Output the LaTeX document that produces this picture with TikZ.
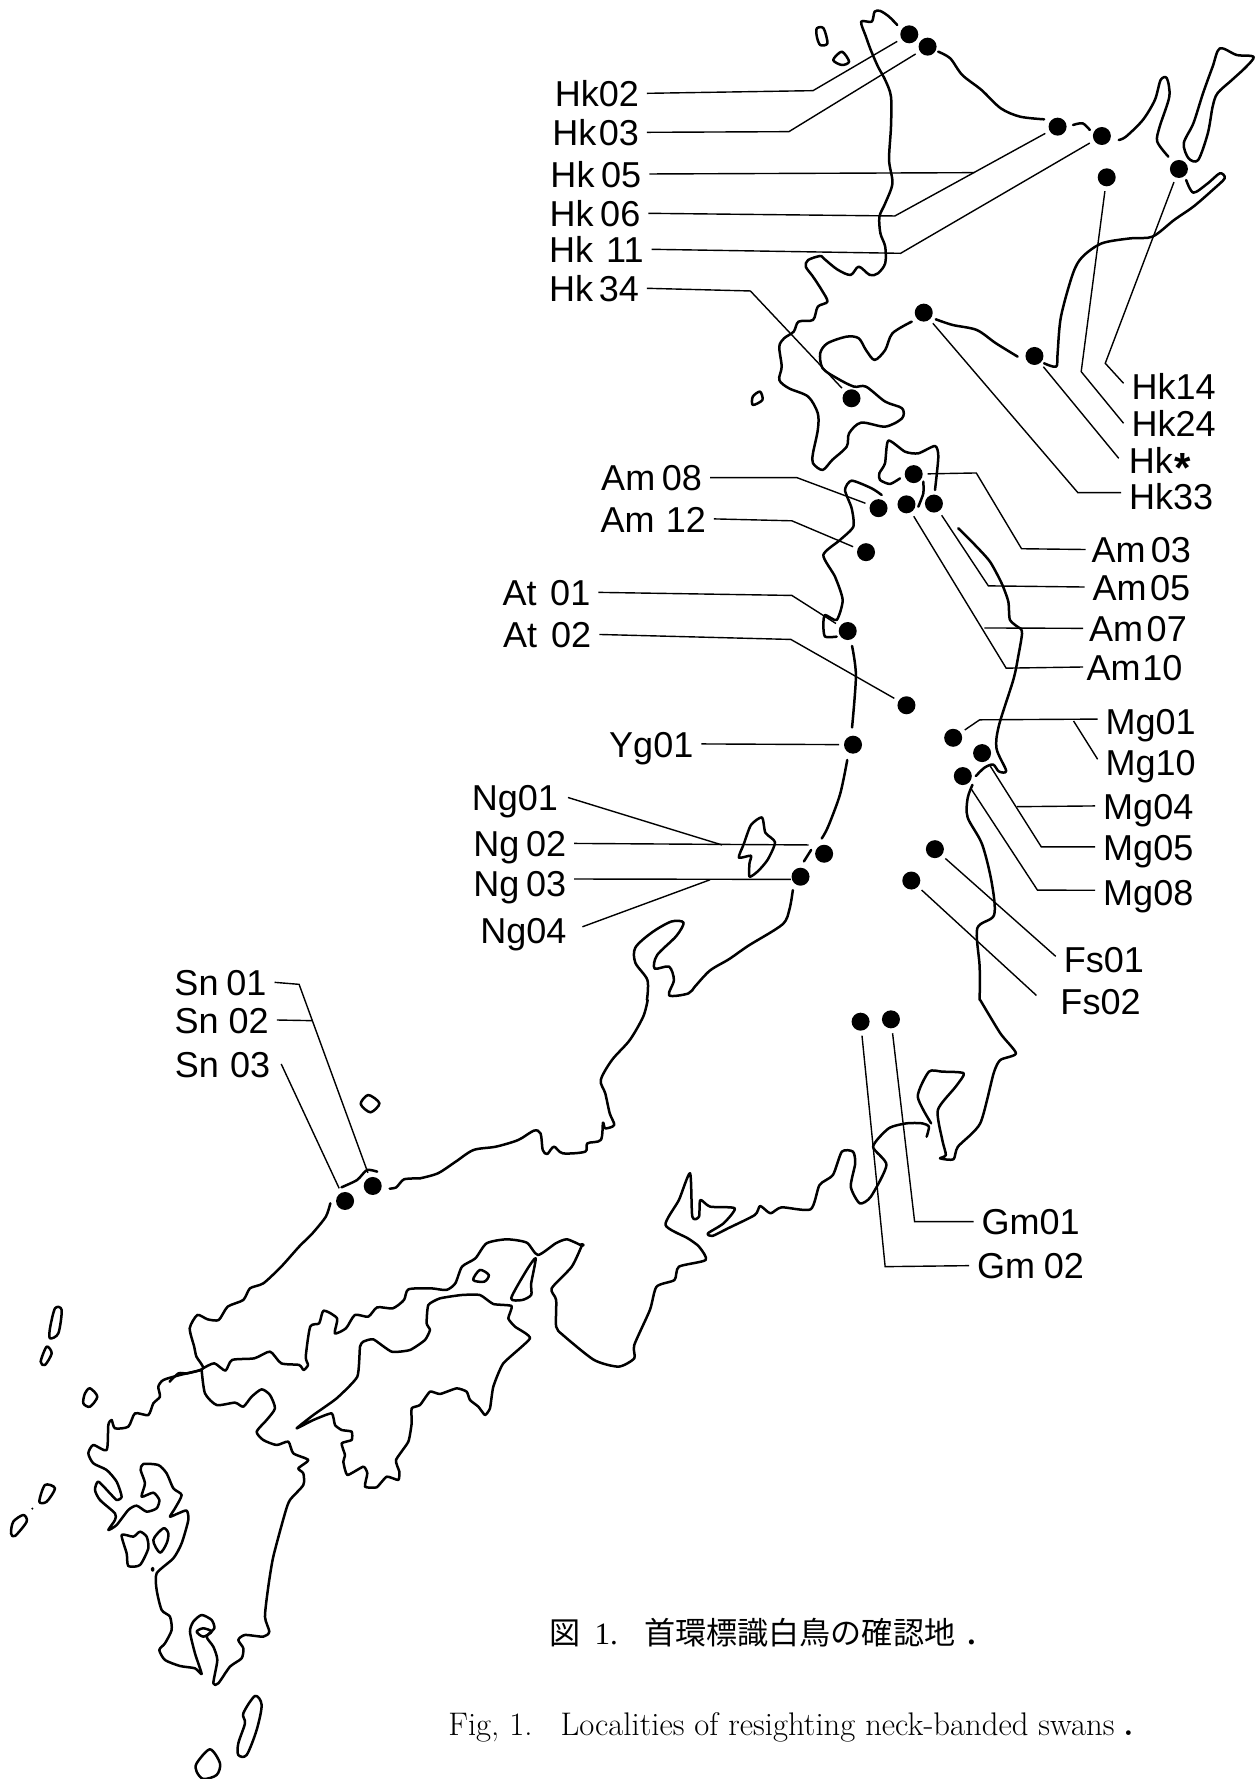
\documentclass[tikz,border=0pt]{standalone}
\usepackage{fontspec}
\newfontfamily\labfont{Liberation Sans}
\newfontfamily\cjkfont{Noto Sans CJK JP}
\newfontfamily\capfont{Liberation Serif}
\newcommand{\gp}[1]{\kern#1pt\relax}
\tikzset{
  za/.style={shift={(500,0)},xscale=.4815,yscale=.3333},
  zb/.style={shift={(450,450)},xscale=.4815,yscale=.3827},
  zc/.style={shift={(0,950)},xscale=.4464,yscale=.3333},
  zd/.style={shift={(0,1300)},xscale=.3333,yscale=.3333},
  ze/.style={shift={(420,1000)},xscale=.4464,yscale=.3333},
  zg/.style={shift={(270,1280)},xscale=.3333,yscale=.3333},
  zh/.style={shift={(820,420)},xscale=.3333,yscale=.3333},
  coast/.style={line width=.5mm,line join=round,line cap=round,black},
  leader/.style={line width=.28mm,line join=miter,black},
  pt/.style={circle,fill=black,draw=none,inner sep=0pt,minimum size=3.6mm,outer sep=1mm},
  lab/.style={font=\labfont\fontsize{20.5}{24}\selectfont,inner ysep=0pt,inner xsep=1.6mm,outer sep=0pt,text height=15pt,text depth=0pt},
  labl/.style={lab,anchor=east},
  labr/.style={lab,anchor=west},
}
\begin{document}
\begin{tikzpicture}[x=.2mm,y=-.2mm]
\useasboundingbox (0,0) rectangle (1255,1779);

% ---- coast lines ----
\begin{scope}[za]
\draw[coast] plot[smooth,tension=.5] coordinates {(825,75)(808,50)(790,33)(778,35)(772,65)(750,65)(760,110)(770,150)(785,200)(800,240)(812,290)(812,380)(808,480)(815,550)(800,610)(788,650)(790,700)(800,740)(800,790)(785,820)(768,825)(745,800)(728,825)(700,808)(672,775)(665,768)(640,780)(635,800)(650,830)(668,870)(680,905)(660,920)(650,960)(620,965)(610,995)(590,1015)(580,1040)(585,1100)(580,1140)(600,1165)(640,1190)(660,1240)(660,1290)(650,1360)(650,1390)(670,1410)(690,1380)(720,1340)(725,1300)(750,1268)(800,1280)(835,1255)(835,1225)(800,1205)(760,1160)(735,1160)(700,1135)(670,1105)(665,1060)(680,1030)(720,1010)(745,1015)(760,1050)(778,1080)(800,1050)(815,1000)(855,965)};
\draw[coast] plot[smooth,tension=.5] coordinates {(905,958)(940,975)(990,990)(1030,1030)(1075,1070)};
\draw[coast] plot[smooth,tension=.5] coordinates {(1130,1090)(1155,1100)(1158,1060)(1165,950)(1190,820)(1210,770)(1250,730)(1310,715)(1355,710)(1400,660)(1440,620)(1480,570)(1505,535)(1495,520)(1470,550)(1440,578)(1425,540)};
\draw[coast] plot[smooth,tension=.5] coordinates {(1388,470)(1365,425)(1370,380)(1390,290)(1385,235)(1372,240)(1360,300)(1335,360)(1300,410)(1285,420)};
\draw[coast] plot[smooth,tension=.5] coordinates {(1225,390)(1210,370)(1190,375)};
\draw[coast] plot[smooth,tension=.5] coordinates {(1130,358)(1080,350)(1040,325)(1000,270)(960,225)(935,175)(910,155)};
\draw[coast] plot[smooth cycle,tension=.5] coordinates {(1495,145)(1530,165)(1565,170)(1550,200)(1520,240)(1490,280)(1480,320)(1470,400)(1450,480)(1430,475)(1420,430)(1440,370)(1460,280)(1480,200)};
\draw[coast] plot[smooth cycle,tension=.5] coordinates {(658,85)(672,85)(680,130)(665,135)(658,110)};
\draw[coast] plot[smooth cycle,tension=.5] coordinates {(710,155)(725,185)(710,195)(692,180)};
\draw[coast] plot[smooth cycle,tension=.5] coordinates {(540,1175)(545,1200)(525,1215)(525,1190)};
\end{scope}

\begin{scope}[zh]
\draw[coast] plot[smooth,tension=.4] coordinates {(240,175)(210,192)(180,180)(178,160)(195,130)(205,62)(255,95)(295,100)(345,78)(355,110)(345,210)};
\draw[coast] plot[smooth,tension=.4] coordinates {(310,185)(310,220)(295,260)};
\draw[coast] plot[smooth,tension=.4] coordinates {(185,225)(155,205)(95,182)(75,210)(95,265)(100,320)(60,360)(10,405)(45,470)(68,540)(50,600)(15,585)(10,615)(15,650)(50,650)};
\draw[coast] plot[smooth,tension=.4] coordinates {(415,325)(465,375)(510,425)(545,490)(565,545)(570,600)(600,625)};
\end{scope}

\begin{scope}[zb]
\draw[coast] plot[smooth,tension=.5] coordinates {(835,512)(843,590)(835,725)};
\draw[coast] plot[smooth,tension=.5] coordinates {(825,810)(810,900)(785,985)(772,1015)};
\draw[coast] plot[smooth,tension=.5] coordinates {(750,1045)(735,1075)};
\draw[coast] plot[smooth,tension=.5] coordinates {(712,1150)(705,1200)(690,1240)(620,1295)(580,1330)(540,1360)(510,1400)(495,1420)(455,1425)(465,1385)(455,1350)(425,1355)(430,1320)(470,1270)(485,1235)(460,1232)(420,1260)(385,1300)(385,1340)(410,1385)(409,1437)};
\draw[coast] plot[smooth,tension=.5] coordinates {(1100,1437)(1100,1350)(1095,1250)(1130,1215)(1125,1130)(1105,1030)(1075,960)(1075,910)(1085,875)};
\draw[coast] plot[smooth,tension=.5] coordinates {(1092,852)(1110,830)(1128,822)(1140,840)(1155,838)(1135,780)(1140,720)(1170,600)(1180,540)(1188,480)(1184,465)};
\draw[coast] plot[smooth cycle,tension=.4] coordinates {(648,960)(655,1000)(675,1025)(660,1070)(640,1100)(622,1115)(622,1080)(625,1060)(600,1065)(610,1030)(625,980)};
\end{scope}

\begin{scope}[ze]
\draw[coast] plot[smooth,tension=.5] coordinates {(510,0)(500,50)(470,120)(430,180)(405,240)(415,280)(425,340)(435,375)(415,385)(410,368)(405,420)(375,430)(370,455)(320,460)(300,440)(285,462)(275,450)(270,400)(255,392)(220,420)(170,440)(120,450)(80,485)(40,520)(0,535)};
\draw[coast] plot[smooth,tension=.4] coordinates {(363,735)(340,800)(295,865)(305,900)(305,980)(320,1005)(390,1080)(445,1100)(480,1075)(480,1035)(515,930)(530,860)(570,840)(580,800)(640,780)(625,740)(600,715)(550,675)(580,600)(605,520)(610,650)(625,650)(628,600)(650,620)(705,625)(680,670)(645,700)(655,708)(690,685)(750,645)(762,618)(785,640)(810,622)(875,628)(895,555)(925,525)(945,455)(970,455)(975,490)(965,560)(985,610)(1010,590)(1045,495)(1015,440)(1050,385)(1090,370)(1125,370)(1140,380)(1135,410)};
\draw[coast] plot[smooth,tension=.4] coordinates {(1145,370)(1115,290)(1140,215)(1170,215)(1218,220)(1200,260)(1160,330)(1170,420)(1178,465)(1165,475)(1195,478)(1205,440)(1255,370)(1285,220)(1300,180)(1335,160)(1300,100)(1255,0)};
\fill (363,735) circle (1.2mm);
\end{scope}

\begin{scope}[zc]
\draw[coast] plot[smooth,tension=.4] coordinates {(941,685)(905,688)(888,712)(873,716)};
\draw[coast] plot[smooth,tension=.4] coordinates {(845,665)(822,660)(800,690)(765,712)};
\draw[coast] plot[smooth,tension=.4] coordinates {(740,760)(730,800)(700,850)(670,890)(630,950)(590,1000)(560,1015)(545,1050)(510,1070)(490,1110)(465,1108)(442,1095)(425,1135)(435,1190)(440,1220)(455,1255)(420,1270)(400,1270)(380,1295)};
\draw[coast] plot[smooth,tension=.4] coordinates {(455,1255)(480,1240)(505,1262)(520,1230)(570,1225)(605,1205)(630,1240)(670,1245)(680,1260)(690,1245)(685,1220)(695,1130)(715,1120)(725,1082)(755,1105)(750,1150)(775,1135)(795,1095)(825,1100)(845,1072)(880,1075)(905,1050)(915,1018)(965,1015)(1000,1020)(1020,1000)(1035,950)(1065,925)(1090,880)(1135,868)(1180,878)(1205,915)(1245,880)(1270,868)(1300,885)};
\draw[coast] plot[smooth cycle,tension=.4] coordinates {(1200,925)(1190,1000)(1190,1035)(1170,1050)(1145,1045)(1180,960)};
\draw[coast] plot[smooth cycle,tension=.5] coordinates {(1075,960)(1095,975)(1085,995)(1060,990)};
\draw[coast] plot[smooth cycle,tension=.5] coordinates {(825,435)(850,460)(830,487)(808,462)};
\end{scope}

\begin{scope}[zd]
\draw[coast] plot[smooth,tension=.4] coordinates {(605,210)(540,225)(490,240)(475,260)(480,290)(460,310)(445,345)(405,340)(385,380)(345,385)(335,360)(325,375)(320,450)(280,435)(265,460)(280,490)(320,510)(350,545)(365,590)(350,600)(330,580)(295,545)(285,570)(300,600)(345,640)(345,660)(325,690)(350,675)(385,630)(410,617)(440,635)(470,625)(478,600)(460,578)(425,590)(435,550)(422,510)(430,492)(475,495)(500,520)(520,565)(545,585)(525,625)(510,650)(535,640)(560,632)(565,660)(545,730)(520,775)(470,820)(470,870)(485,930)(510,950)(515,990)(495,1030)(478,1050)(495,1080)(540,1098)(585,1105)(605,1122)(585,1060)(570,995)(580,965)(605,945)(635,960)(643,985)(620,1010)(640,1040)(652,1080)(640,1150)(655,1150)(690,1100)(725,1075)(730,1045)(715,1020)(735,1005)(790,1010)(808,995)(795,950)(805,860)(820,770)(855,640)(870,600)(910,555)(910,520)(895,505)(925,480)(880,460)(865,425)(830,435)(790,420)(770,395)(800,360)(825,325)(810,285)(785,268)(755,290)(730,320)(705,308)(650,315)(615,280)(605,210)};
\draw[coast] (458,808) circle (.45mm and .7mm);
\draw[coast] plot[smooth cycle,tension=.5] coordinates {(590,995)(610,985)(635,995)(610,1010)};
\draw[coast] plot[smooth cycle,tension=.5] coordinates {(165,25)(185,30)(175,100)(150,115)(150,85)};
\draw[coast] plot[smooth cycle,tension=.5] coordinates {(140,140)(155,160)(135,195)(122,185)};
\draw[coast] plot[smooth cycle,tension=.5] coordinates {(270,265)(292,290)(270,320)(250,310)(255,280)};
\draw[coast] plot[smooth cycle,tension=.5] coordinates {(135,555)(165,565)(140,605)(118,605)};
\fill (97,626) circle (.7mm);
\draw[coast] plot[smooth cycle,tension=.5] coordinates {(70,645)(80,665)(45,708)(33,700)(40,665)};
\draw[coast] plot[smooth cycle,tension=.4] coordinates {(365,705)(400,710)(420,695)(440,710)(445,745)(420,795)(385,798)(380,760)};
\draw[coast] plot[smooth cycle,tension=.5] coordinates {(490,685)(505,700)(500,730)(480,758)(460,720)};
\draw[coast] plot[smooth cycle,tension=.5] coordinates {(765,1188)(785,1215)(770,1290)(740,1365)(715,1365)(715,1330)(735,1270)(730,1240)};
\draw[coast] plot[smooth cycle,tension=.5] coordinates {(630,1348)(660,1390)(650,1425)(610,1437)(590,1415)(590,1390)};
\end{scope}

\begin{scope}[zg]
\draw[coast] plot[smooth cycle,tension=.3] coordinates {(80,445)(130,420)(185,400)(195,435)(215,450)(245,455)(245,480)(215,490)(225,525)(220,545)(232,585)(280,560)(292,580)(285,620)(320,622)(350,590)(385,600)(388,575)(378,540)(415,485)(425,430)(425,385)(450,375)(480,335)(510,342)(560,325)(590,335)(600,360)(625,380)(645,405)(660,385)(670,320)(700,250)(780,175)(735,140)(715,115)(725,78)(670,72)(630,45)(575,45)(510,55)(475,75)(470,130)(480,150)(465,180)(420,210)(365,215)(310,178)(280,185)(270,200)(262,290)(200,355)(130,405)};
\end{scope}

% ---- dots, labels, elbows, connectors ----
\begin{scope}[za]
\node[pt] (p02) at (850,103) {};
\node[pt] (p03) at (888,140) {};
\node[pt] (p05) at (1158,380) {};
\node[pt] (p11) at (1250,408) {};
\node[pt] (p24) at (1260,532) {};
\node[pt] (p14) at (1410,507) {};
\node[pt] (p33) at (880,938) {};
\node[pt] (ps)  at (1110,1068) {};
\node[pt] (p34) at (730,1195) {};
\node[labl] (Hk02) at (305,280) {Hk02};
\node[labl] (Hk03) at (305,397) {Hk\gp{1.3}03};
\node[labl] (Hk05) at (310,522) {Hk\gp{3.8}05};
\node[labl] (Hk06) at (308,640) {Hk\gp{3.8}06};
\node[labl] (Hk11) at (315,748) {Hk\gp{7.5}11};
\node[labl] (Hk34) at (305,865) {Hk\gp{3.2}34};
\node[labr] (Hk14) at (1295,1158) {Hk14};
\node[labr] (Hk24) at (1295,1270) {Hk24};
\node[labr,inner xsep=2mm] (Hks) at (1285,1382) {Hk\gp{1}\smash{\fontsize{24}{24}\selectfont\bfseries\raisebox{-.2em}{*}}};
\node[labr] (Hk33) at (1290,1490) {Hk33};
\coordinate (e02) at (650,272);
\coordinate (e03) at (600,395);
\coordinate (e05) at (985,518);
\coordinate (e06) at (820,648);
\coordinate (e11) at (832,760);
\coordinate (e34) at (520,873);
\coordinate (e14) at (1257,1090);
\coordinate (e24) at (1207,1115);
\coordinate (e33) at (1200,1478);
\end{scope}
\draw[leader] (Hk02.east) -- (e02) -- (p02);
\draw[leader] (Hk03.east) -- (e03) -- (p03);
\draw[leader] (Hk05.east) -- (e05);
\draw[leader] (Hk06.east) -- (e06) -- (p05);
\draw[leader] (Hk11.east) -- (e11) -- (p11);
\draw[leader] (Hk34.east) -- (e34) -- (p34);
\draw[leader] ([yshift=1.5pt]Hk14.west) -- (e14) -- (p14);
\draw[leader] (Hk24.west) -- (e24) -- (p24);
\draw[leader] ([yshift=1.3pt]Hks.west) -- (ps);
\draw[leader] ([yshift=2.3pt]Hk33.west) -- (e33) -- (p33);

\begin{scope}[zb]
\node[pt] (a03) at (963,63) {};
\node[pt] (a08) at (890,152) {};
\node[pt] (a10) at (948,142) {};
\node[pt] (a05) at (1005,140) {};
\node[pt] (a12) at (864,267) {};
\node[pt] (t01) at (826,473) {};
\node[pt] (t02) at (948,667) {};
\node[pt] (y01) at (837,770) {};
\node[pt] (m01) at (1045,752) {};
\node[pt] (m05) at (1105,792) {};
\node[pt] (m08) at (1065,852) {};
\node[pt] (n02) at (777,1055) {};
\node[pt] (n03) at (728,1115) {};
\node[pt] (f01) at (1007,1043) {};
\node[pt] (f02) at (958,1125) {};
\node[labl] (Am08) at (540,72) {Am\gp{3.8}08};
\node[labl] (Am12) at (548,180) {Am\gp{6.4}12};
\node[labl] (At01) at (308,372) {At\gp{7.7}01};
\node[labl] (At02) at (310,482) {At\gp{8}02};
\node[labl] (Yg01) at (522,768) {Yg01};
\node[labl,inner xsep=2mm] (Ng01) at (245,908) {Ng01};
\node[labl] (Ng02) at (258,1028) {Ng\gp{3.8}02};
\node[labl] (Ng03) at (258,1132) {Ng\gp{3.8}03};
\node[labl,inner xsep=3.2mm] (Ng04) at (275,1255) {Ng04};
\node[labr,inner xsep=1.2mm] (Am03) at (1320,260) {Am\gp{3}03};
\node[labr] (Am05) at (1318,358) {Am\gp{2}05};
\node[labr,inner xsep=1.2mm] (Am07) at (1315,466) {Am\gp{2}07};
\node[labr,inner xsep=.7mm] (Am10) at (1315,567) {Am\gp{1}10};
\node[labr] (Mg01) at (1345,710) {Mg01};
\node[labr] (Mg10) at (1345,815) {Mg10};
\node[labr] (Mg04) at (1340,930) {Mg04};
\node[labr] (Mg05) at (1340,1037) {Mg05};
\node[labr] (Mg08) at (1340,1155) {Mg08};
\node[labr] (Fs01) at (1258,1330) {Fs01};
\node[labr,inner xsep=4.8mm] (Fs02) at (1218,1440) {Fs02};
\coordinate (b08) at (720,72);
\coordinate (b12) at (710,185);
\coordinate (b01) at (710,380);
\coordinate (b02) at (708,495);
\coordinate (b03a) at (1093,60);
\coordinate (b03b) at (1187,258);
\coordinate (b05) at (1118,355);
\coordinate (b07) at (1110,465);
\coordinate (b10) at (1155,570);
\coordinate (bm1) at (1100,705);
\coordinate (bm10) at (1295,708);
\coordinate (bm4) at (1178,932);
\coordinate (bm5) at (1228,1037);
\coordinate (bm8) at (1220,1150);
\coordinate (bn1) at (565,1032);
\coordinate (bn2) at (745,1032);
\coordinate (bn3) at (708,1122);
\coordinate (bn4) at (540,1123);
\end{scope}
\draw[leader] (Am08.east) -- (b08) -- (a08);
\draw[leader] (Am12.east) -- (b12) -- (a12);
\draw[leader] (At01.east) -- (b01) -- (t01);
\draw[leader] (At02.east) -- (b02) -- (t02);
\draw[leader] (Yg01.east) -- (y01);
\draw[leader] (Ng01.east) -- (bn1);
\draw[leader] (Ng02.east) -- (bn2);
\draw[leader] ([yshift=2.4pt]Ng03.east) -- (bn3);
\draw[leader] ([yshift=2pt]Ng04.east) -- (bn4);
\draw[leader] (a03) -- (b03a) -- (b03b) -- (Am03.west);
\draw[leader] (a05) -- (b05) -- (Am05.west);
\draw[leader] (b07) -- (Am07.west);
\draw[leader] (a10) -- (b10) -- (Am10.west);
\draw[leader] (m01) -- (bm1) -- ([yshift=1.5pt]Mg01.west);
\draw[leader] (bm10) -- ([yshift=1.5pt]Mg10.west);
\draw[leader] (bm4) -- (Mg04.west);
\draw[leader] (m05) -- (bm5) -- (Mg05.west);
\draw[leader] (m08) -- (bm8) -- ([yshift=1pt]Mg08.west);
\draw[leader] (f01) -- ([yshift=1.5pt]Fs01.west);
\draw[leader] (f02) -- ([yshift=3.2pt]Fs02.west);

\begin{scope}[ze]
\node[pt] (g02) at (987,65) {};
\node[pt] (g01) at (1055,58) {};
\node[labr] (Gm01) at (1240,665) {Gm01};
\node[labr] (Gm02) at (1230,797) {Gm\gp{5}02};
\coordinate (h01) at (1108,665);
\coordinate (h02) at (1042,800);
\end{scope}
\draw[leader] (g01) -- (h01) -- (Gm01.west);
\draw[leader] (g02) -- (h02) -- (Gm02.west);

\begin{scope}[zc]
\node[pt] (s01) at (835,708) {};
\node[pt] (s03) at (773,753) {};
\node[labl] (Sn01) at (615,97) {Sn\gp{4.5}01};
\node[labl] (Sn02) at (620,210) {Sn\gp{5.7}02};
\node[labl,inner xsep=2.2mm] (Sn03) at (630,342) {Sn\gp{6.4}03};
\coordinate (c01) at (670,103);
\coordinate (c02) at (700,212);
\end{scope}
\draw[leader] (Sn01.east) -- (c01) -- (s01);
\draw[leader] (Sn02.east) -- (c02);
\draw[leader] (Sn03.east) -- (s03);

% ---- captions ----
\node[anchor=west,inner sep=0pt,font=\fontsize{17.7}{20}\selectfont] (capjp) at (549,1633)
  {{\cjkfont 図}\hspace{8pt}{\capfont 1.}\hspace{15pt}{\cjkfont 首環標識白鳥の確認地}\hspace{7pt}{\capfont\bfseries .}};
\node[anchor=west,inner sep=0pt,font=\fontsize{18.6}{22}\selectfont] (capen) at (448,1727)
  {Fig, 1.\hspace{16pt}Localities of resighting neck-banded swans\hspace{5pt}{\bfseries .}};
\end{tikzpicture}
\end{document}
